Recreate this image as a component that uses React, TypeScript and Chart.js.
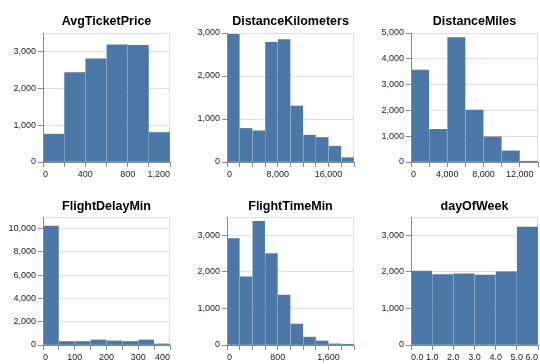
import React, { useEffect, useRef } from 'react';
import { Chart, registerables } from 'chart.js';

Chart.register(...registerables);

// ---------- data (bin edges, counts, axis ticks) ----------
const avgTicketPriceEdges = [0, 200, 400, 600, 800, 1000, 1200];
const avgTicketPriceCounts = [755, 2427, 2800, 3182, 3164, 800];
const avgTicketPriceXLabels = [0, 400, 800, 1200];
const avgTicketPriceYTicks = [0, 1000, 2000, 3000];

const distanceKilometersEdges = [0, 2000, 4000, 6000, 8000, 10000, 12000, 14000, 16000, 18000, 20000];
const distanceKilometersCounts = [2970, 780, 725, 2782, 2845, 1302, 623, 569, 366, 100];
const distanceKilometersXLabels = [0, 8000, 16000];
const distanceKilometersYTicks = [0, 1000, 2000, 3000];

const distanceMilesEdges = [0, 2000, 4000, 6000, 8000, 10000, 12000, 14000];
const distanceMilesCounts = [3565, 1265, 4825, 2010, 975, 430, 30];
const distanceMilesXLabels = [0, 4000, 8000, 12000];
const distanceMilesYTicks = [0, 1000, 2000, 3000, 4000, 5000];

const flightDelayMinEdges = [0, 50, 100, 150, 200, 250, 300, 350, 400];
const flightDelayMinCounts = [10230, 300, 300, 430, 350, 300, 430, 90];
const flightDelayMinXLabels = [0, 100, 200, 300, 400];
const flightDelayMinYTicks = [0, 2000, 4000, 6000, 8000, 10000];

const flightTimeMinEdges = [0, 200, 400, 600, 800, 1000, 1200, 1400, 1600, 1800, 2000];
const flightTimeMinCounts = [2910, 1864, 3382, 2500, 1364, 573, 215, 110, 30, 20];
const flightTimeMinXLabels = [0, 800, 1600];
const flightTimeMinYTicks = [0, 1000, 2000, 3000];

const dayOfWeekEdges = [0, 1, 2, 3, 4, 5, 6];
const dayOfWeekCounts = [2018, 1927, 1945, 1909, 2000, 3227];
const dayOfWeekXLabels = [0, 1, 2, 3, 4, 5, 6];
const dayOfWeekYTicks = [0, 1000, 2000, 3000];

// ---------- styling / layout ----------
const BAR_COLOR = '#4c78a8';
const FONT = "'Liberation Sans', Arial, Helvetica, sans-serif";
const COL_LEFT = [0, 184, 368];
const ROW_TOP = [0, 184];
const Y_W = 43;
const PLOT_W = 128;
const PAD_R = 1;
const ROW_GEOM = [
  { titleH: 33, plotH: 129, xH: 20, titleCenter: 22 },
  { titleH: 33, plotH: 128, xH: 19, titleCenter: 23 },
];

const thousands = (v: number) => Math.round(v).toLocaleString('en-US');
const oneDecimal = (v: number) => v.toFixed(1);

type Panel = {
  title: string;
  edges: number[];
  counts: number[];
  xLabels: number[];
  yTicks: number[];
  yMax: number;
  fmtX: (v: number) => string;
  row: number;
  col: number;
};

const panels: Panel[] = [
  { title: 'AvgTicketPrice', edges: avgTicketPriceEdges, counts: avgTicketPriceCounts, xLabels: avgTicketPriceXLabels, yTicks: avgTicketPriceYTicks, yMax: 3500, fmtX: thousands, row: 0, col: 0 },
  { title: 'DistanceKilometers', edges: distanceKilometersEdges, counts: distanceKilometersCounts, xLabels: distanceKilometersXLabels, yTicks: distanceKilometersYTicks, yMax: 3000, fmtX: thousands, row: 0, col: 1 },
  { title: 'DistanceMiles', edges: distanceMilesEdges, counts: distanceMilesCounts, xLabels: distanceMilesXLabels, yTicks: distanceMilesYTicks, yMax: 5000, fmtX: thousands, row: 0, col: 2 },
  { title: 'FlightDelayMin', edges: flightDelayMinEdges, counts: flightDelayMinCounts, xLabels: flightDelayMinXLabels, yTicks: flightDelayMinYTicks, yMax: 11000, fmtX: thousands, row: 1, col: 0 },
  { title: 'FlightTimeMin', edges: flightTimeMinEdges, counts: flightTimeMinCounts, xLabels: flightTimeMinXLabels, yTicks: flightTimeMinYTicks, yMax: 3500, fmtX: thousands, row: 1, col: 1 },
  { title: 'dayOfWeek', edges: dayOfWeekEdges, counts: dayOfWeekCounts, xLabels: dayOfWeekXLabels, yTicks: dayOfWeekYTicks, yMax: 3500, fmtX: oneDecimal, row: 1, col: 2 },
];

const framePlugin = {
  id: 'viewFrame',
  beforeDraw(chart: any) {
    const { ctx, chartArea: a } = chart;
    ctx.save();
    ctx.strokeStyle = '#dddddd';
    ctx.lineWidth = 1;
    ctx.strokeRect(Math.round(a.left) + 0.5, Math.round(a.top) + 0.5, Math.round(a.width) - 1, Math.round(a.height) - 1);
    ctx.restore();
  },
};

function Histogram({ p }: { p: Panel }) {
  const ref = useRef<HTMLCanvasElement | null>(null);
  const g = ROW_GEOM[p.row];
  const width = Y_W + PLOT_W + PAD_R;
  const height = g.titleH + g.plotH + g.xH;

  useEffect(() => {
    if (!ref.current) return;
    const nBins = p.counts.length;
    const binPx = PLOT_W / nBins;
    const data = p.counts.map((c, i) => ({ x: (p.edges[i] + p.edges[i + 1]) / 2, y: c }));
    const titleLine = 15;
    const padTop = g.titleCenter - titleLine / 2;
    const padBottom = g.titleH - padTop - titleLine;
    const tickFont = { family: FONT, size: 9 };

    const chart = new Chart(ref.current, {
      type: 'bar',
      data: {
        datasets: [
          {
            data: data as any,
            backgroundColor: BAR_COLOR,
            borderWidth: 0,
            barThickness: binPx - 1,
          },
        ],
      },
      options: {
        animation: false,
        responsive: false,
        maintainAspectRatio: false,
        layout: { padding: { left: 0, right: PAD_R, top: 0, bottom: 0 } },
        plugins: {
          legend: { display: false },
          tooltip: { enabled: false },
          title: {
            display: true,
            text: p.title,
            fullSize: false,
            color: '#000',
            font: { family: FONT, size: 12.5, weight: 'bold', lineHeight: titleLine / 12.5 },
            padding: { top: padTop, bottom: padBottom },
          },
        },
        scales: {
          x: {
            type: 'linear',
            min: p.edges[0],
            max: p.edges[p.edges.length - 1],
            offset: false,
            grid: { display: true, drawOnChartArea: false, drawTicks: true, tickLength: 5, color: '#888', offset: false },
            border: { display: true, color: '#888', z: 1 },
            ticks: {
              autoSkip: false,
              maxRotation: 0,
              minRotation: 0,
              align: 'inner',
              padding: 2,
              color: '#222',
              font: tickFont,
              callback: (v: any) => (p.xLabels.includes(Number(v)) ? p.fmtX(Number(v)) : ''),
            },
            afterBuildTicks: (s: any) => {
              s.ticks = p.edges.map((v) => ({ value: v }));
            },
            afterFit: (s: any) => {
              s.height = g.xH;
            },
          },
          y: {
            type: 'linear',
            min: 0,
            max: p.yMax,
            grid: { color: '#dddddd', tickColor: '#888', drawTicks: true, tickLength: 5 },
            border: { display: true, color: '#888', z: 1 },
            ticks: {
              padding: 2,
              color: '#222',
              font: tickFont,
              callback: (v: any) => thousands(Number(v)),
            },
            afterBuildTicks: (s: any) => {
              s.ticks = p.yTicks.map((v) => ({ value: v }));
            },
            afterFit: (s: any) => {
              s.width = Y_W;
            },
          },
        },
      } as any,
      plugins: [framePlugin],
    });
    return () => chart.destroy();
  }, []);

  return (
    <canvas
      ref={ref}
      width={width}
      height={height}
      style={{ position: 'absolute', left: COL_LEFT[p.col], top: ROW_TOP[p.row], width, height }}
    />
  );
}

export default function App() {
  return (
    <div style={{ position: 'absolute', left: 0, top: 0, width: 540, height: 364, overflow: 'hidden', background: '#fff' }}>
      {panels.map((p) => (
        <Histogram key={p.title} p={p} />
      ))}
    </div>
  );
}
